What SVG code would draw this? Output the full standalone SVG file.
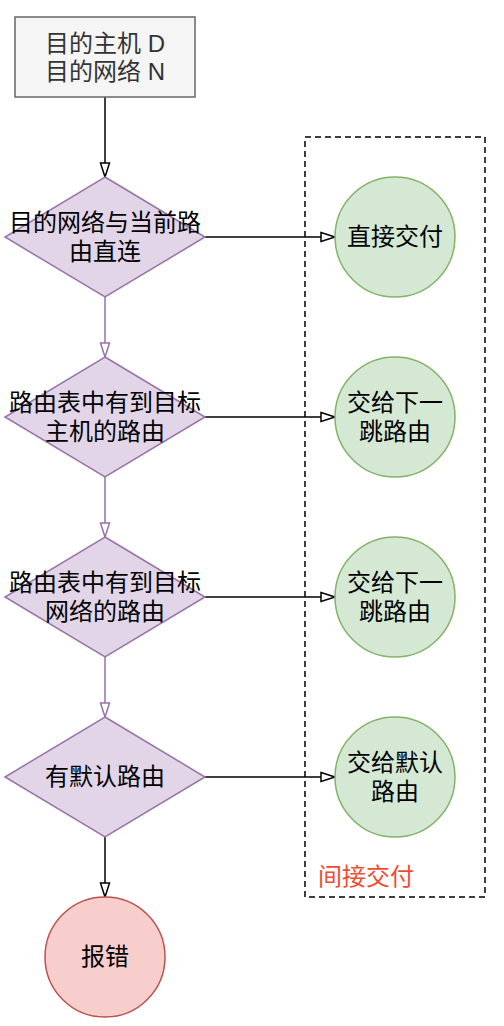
<svg xmlns="http://www.w3.org/2000/svg" width="504" height="1026" viewBox="0 0 504 1026">
<style>
text{font-family:"Liberation Sans","Noto Sans CJK SC",sans-serif;font-size:24px;text-anchor:middle;fill:#000}
.dia{fill:#e1d5e7;stroke:#9673a6;stroke-width:1.5}
.ok{fill:#d5e8d4;stroke:#82b366;stroke-width:1.5}
.err{fill:#f8cecc;stroke:#b85450;stroke-width:1.5}
.blk{stroke:#000;stroke-width:1.5;fill:none}
.pur{stroke:#9673a6;stroke-width:1.5;fill:none}
</style>
<defs>
<marker id="ab" markerUnits="userSpaceOnUse" markerWidth="16" markerHeight="12" refX="14" refY="5" orient="auto" viewBox="-1 0 16 10"><path d="M0,0.5 L14,5 L0,9.5 Z" fill="#fff" stroke="#000" stroke-width="1.5"/></marker>
<marker id="ap" markerUnits="userSpaceOnUse" markerWidth="16" markerHeight="12" refX="14" refY="5" orient="auto" viewBox="-1 0 16 10"><path d="M0,0.5 L14,5 L0,9.5 Z" fill="#fff" stroke="#9673a6" stroke-width="1.5"/></marker>
</defs>
<rect id="indirect" x="305" y="137" width="180" height="760" fill="none" stroke="#000" stroke-width="1.5" stroke-dasharray="6 4"/>
<g id="connectors">
<path class="blk" d="M105,97 V177" marker-end="url(#ab)"/>
<path class="pur" d="M105,297 V357" marker-end="url(#ap)"/>
<path class="pur" d="M105,477 V537" marker-end="url(#ap)"/>
<path class="pur" d="M105,657 V717" marker-end="url(#ap)"/>
<path class="blk" d="M105,837 V897" marker-end="url(#ab)"/>
<path class="blk" d="M205,237 H335" marker-end="url(#ab)"/>
<path class="blk" d="M205,417 H335" marker-end="url(#ab)"/>
<path class="blk" d="M205,597 H335" marker-end="url(#ab)"/>
<path class="blk" d="M205,777 H335" marker-end="url(#ab)"/>
</g>
<g id="start"><rect x="15" y="17" width="180" height="80" fill="#f5f5f5" stroke="#666" stroke-width="1.5"/><text style="fill:#333"><tspan x="105" y="52">目的主机 D</tspan><tspan x="105" y="80">目的网络 N</tspan></text></g>
<g id="d1"><path class="dia" d="M105,177 L205,237 L105,297 L5,237 Z"/><text><tspan x="105" y="231">目的网络与当前路</tspan><tspan x="105" y="260">由直连</tspan></text></g>
<g id="d2"><path class="dia" d="M105,357 L205,417 L105,477 L5,417 Z"/><text><tspan x="105" y="411">路由表中有到目标</tspan><tspan x="105" y="440">主机的路由</tspan></text></g>
<g id="d3"><path class="dia" d="M105,537 L205,597 L105,657 L5,597 Z"/><text><tspan x="105" y="591">路由表中有到目标</tspan><tspan x="105" y="620">网络的路由</tspan></text></g>
<g id="d4"><path class="dia" d="M105,717 L205,777 L105,837 L5,777 Z"/><text x="105" y="785">有默认路由</text></g>
<g id="c1"><circle class="ok" cx="395" cy="237" r="60"/><text x="395" y="245">直接交付</text></g>
<g id="c2"><circle class="ok" cx="395" cy="417" r="60"/><text><tspan x="395" y="411">交给下一</tspan><tspan x="395" y="440">跳路由</tspan></text></g>
<g id="c3"><circle class="ok" cx="395" cy="597" r="60"/><text><tspan x="395" y="591">交给下一</tspan><tspan x="395" y="620">跳路由</tspan></text></g>
<g id="c4"><circle class="ok" cx="395" cy="777" r="60"/><text><tspan x="395" y="771">交给默认</tspan><tspan x="395" y="800">路由</tspan></text></g>
<g id="error"><circle class="err" cx="105" cy="957" r="60"/><text x="105" y="965">报错</text></g>
<g id="label"><text x="318" y="885" style="text-anchor:start;fill:#f04b30">间接交付</text></g>
</svg>
